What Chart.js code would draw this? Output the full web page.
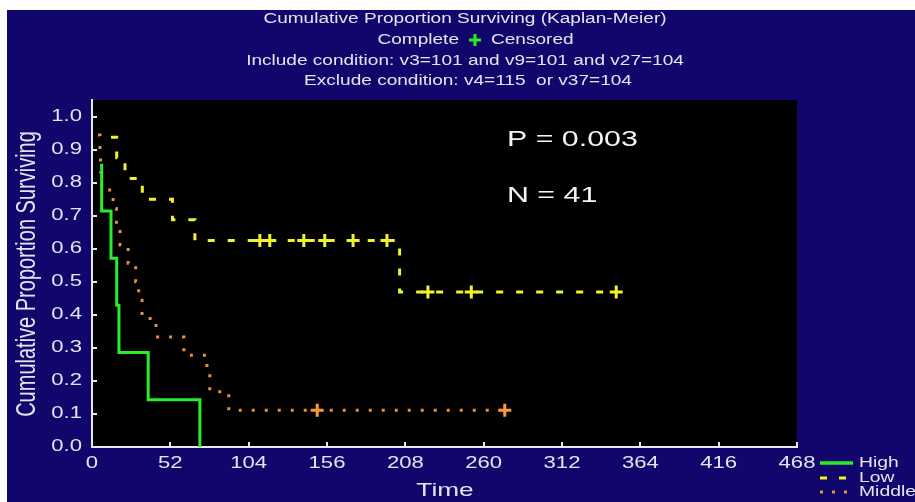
<!DOCTYPE html>
<html>
<head>
<meta charset="utf-8">
<title>Cumulative Proportion Surviving (Kaplan-Meier)</title>
<style>
  html, body { margin: 0; padding: 0; background: #ffffff; overflow: hidden; }
  #km { display: block; }
</style>
<script src="https://cdn.jsdelivr.net/npm/chart.js@4/dist/chart.umd.min.js"></script>
</head>
<body>
<canvas id="km" width="915" height="502"></canvas>
<script>
// ---- axis ticks ----
const xTicks = [0, 52, 104, 156, 208, 260, 312, 364, 416, 468];
const xTickLabels = ['0', '52', '104', '156', '208', '260', '312', '364', '416', '468'];
const yTicks = [0, 0.1, 0.2, 0.3, 0.4, 0.5, 0.6, 0.7, 0.8, 0.9, 1.0];
const yTickLabels = ['0.0', '0.1', '0.2', '0.3', '0.4', '0.5', '0.6', '0.7', '0.8', '0.9', '1.0'];

// ---- group names ----
const groups = ['High', 'Low', 'Middle'];

// ---- survival steps: time of each step and proportion surviving after it ----
const highTime = [6.4, 6.4, 12.6, 16.4, 17.9, 37.3, 71.6];
const highSurv = [0.857, 0.714, 0.571, 0.429, 0.286, 0.143, 0.0];

const lowTime = [12.6, 16.4, 21.9, 33.4, 53.4, 68.3, 204.2, 348];
const lowSurv = [0.9375, 0.875, 0.8125, 0.75, 0.6875, 0.625, 0.469, 0.469];

const midTime = [4.0, 5.3, 5.7, 6.4, 14.0, 16.2, 18.6, 24.0, 29.0, 31.0, 33.2, 42.5, 61.0, 76.3, 78.2, 90.8, 274];
const midSurv = [0.944, 0.889, 0.833, 0.778, 0.722, 0.667, 0.611, 0.556, 0.5, 0.444, 0.389, 0.333, 0.278, 0.222, 0.167, 0.111, 0.111];

// ---- censored observations ----
const lowCensTime = [111.4, 118.0, 140.6, 154.5, 173.3, 195.8, 223.0, 251.8, 348];
const lowCensSurv = [0.625, 0.625, 0.625, 0.625, 0.625, 0.625, 0.469, 0.469, 0.469];
const midCensTime = [149.5, 274];
const midCensSurv = [0.111, 0.111];

// ---- annotations ----
const titleLines = [
  'Cumulative Proportion Surviving (Kaplan-Meier)',
  'Include condition: v3=101 and v9=101 and v27=104',
  'Exclude condition: v4=115  or v37=104'
];
const statP = 'P = 0.003';
const statN = 'N = 41';

// ---- colours ----
const NAVY = '#11066b';
const INK = '#e4e4ee';
const GREEN = '#27ee27';
const YELLOW = '#f2f22a';
const ORANGE = '#e8913a';
const ORANGE_CROSS = '#ff9a35';

const FONT = '"Liberation Sans", Arial, sans-serif';
const SX = 1.38; // horizontal stretch of the lettering

const pts = (t, s) => t.map((v, i) => ({ x: v, y: s[i] }));

function wideText(ctx, text, x, y, size, align, color) {
  ctx.save();
  ctx.font = size + 'px ' + FONT;
  ctx.fillStyle = color;
  ctx.textBaseline = 'middle';
  ctx.textAlign = align;
  ctx.translate(x, y);
  ctx.scale(SX, 1);
  ctx.fillText(text, 0, 0);
  ctx.restore();
}

function plusMark(ctx, x, y, r, color, w) {
  ctx.save();
  ctx.strokeStyle = color;
  ctx.lineWidth = w;
  ctx.beginPath();
  ctx.moveTo(x - r, y); ctx.lineTo(x + r, y);
  ctx.moveTo(x, y - r); ctx.lineTo(x, y + r);
  ctx.stroke();
  ctx.restore();
}

// page background and black plotting field
const backdrop = {
  id: 'backdrop',
  beforeDraw(chart) {
    const { ctx, chartArea: a, width, height } = chart;
    ctx.save();
    ctx.fillStyle = '#ffffff';
    ctx.fillRect(0, 0, width, height);
    ctx.fillStyle = NAVY;
    ctx.fillRect(7, 10, width - 7, height - 10);
    ctx.fillStyle = '#000000';
    ctx.fillRect(a.left, a.top, a.right - a.left, a.bottom - a.top);
    ctx.restore();
  }
};

// titles, tick marks, tick labels, statistics and key
const decorations = {
  id: 'decorations',
  afterDraw(chart) {
    const { ctx, chartArea: a, scales } = chart;
    const xs = scales.x, ys = scales.y;

    // heading
    wideText(ctx, titleLines[0], 465, 19, 13.8, 'center', INK);
    wideText(ctx, 'Complete', 459, 40, 13.8, 'right', INK);
    plusMark(ctx, 475, 40, 6, GREEN, 3);
    wideText(ctx, 'Censored', 491, 40, 13.8, 'left', INK);
    wideText(ctx, titleLines[1], 465, 61, 13.8, 'center', INK);
    wideText(ctx, titleLines[2], 468, 81, 13.8, 'center', INK);

    // inward tick marks
    ctx.save();
    ctx.strokeStyle = '#e8e8e8';
    ctx.lineWidth = 2;
    ctx.beginPath();
    xTicks.forEach(v => {
      const px = Math.round(xs.getPixelForValue(v));
      ctx.moveTo(px, a.bottom); ctx.lineTo(px, a.bottom - 5);
    });
    yTicks.forEach(v => {
      const py = Math.round(ys.getPixelForValue(v));
      ctx.moveTo(a.left, py); ctx.lineTo(a.left + 5, py);
    });
    ctx.stroke();
    ctx.restore();

    // tick labels
    xTicks.forEach((v, i) => wideText(ctx, xTickLabels[i], xs.getPixelForValue(v), 464, 16, 'center', INK));
    yTicks.forEach((v, i) => wideText(ctx, yTickLabels[i], 82, ys.getPixelForValue(v), 16, 'right', INK));

    // axis titles
    wideText(ctx, 'Time', 445, 491, 19, 'center', INK);
    ctx.save();
    ctx.font = '20px ' + FONT;
    ctx.fillStyle = INK;
    ctx.textAlign = 'center';
    ctx.textBaseline = 'middle';
    ctx.translate(27, 274);
    ctx.scale(SX, 1);
    ctx.rotate(-Math.PI / 2);
    ctx.fillText('Cumulative Proportion Surviving', 0, 0);
    ctx.restore();

    // statistics
    wideText(ctx, statP, 507, 140, 22, 'left', '#f4f4f4');
    wideText(ctx, statN, 507, 196, 22, 'left', '#f4f4f4');

    // key
    const keyY = [463, 478, 492];
    const keyStyle = [
      { c: GREEN, d: [], w: 3.5 },
      { c: YELLOW, d: [7, 12], w: 3 },
      { c: ORANGE, d: [3, 9], w: 3 }
    ];
    keyStyle.forEach((k, i) => {
      ctx.save();
      ctx.strokeStyle = k.c;
      ctx.lineWidth = k.w;
      ctx.setLineDash(k.d);
      ctx.beginPath();
      ctx.moveTo(820, keyY[i]);
      ctx.lineTo(853, keyY[i]);
      ctx.stroke();
      ctx.restore();
      wideText(ctx, groups[i], 859, keyY[i], 14, 'left', INK);
    });
  }
};

const fixedAxis = (size, prop) => s => { s[prop] = size; };

new Chart(document.getElementById('km'), {
  type: 'line',
  data: {
    datasets: [
      {
        label: groups[0], data: pts(highTime, highSurv), stepped: true,
        borderColor: GREEN, borderWidth: 3, pointRadius: 0, fill: false
      },
      {
        label: groups[1], data: pts(lowTime, lowSurv), stepped: true,
        borderColor: YELLOW, borderWidth: 3, borderDash: [7, 13], pointRadius: 0, fill: false
      },
      {
        label: groups[2], data: pts(midTime, midSurv), stepped: true,
        borderColor: ORANGE, borderWidth: 3, borderDash: [3, 10], pointRadius: 0, fill: false
      },
      {
        label: groups[1] + ' censored', type: 'scatter', data: pts(lowCensTime, lowCensSurv),
        showLine: false, pointStyle: 'cross', pointRadius: 6.5, borderColor: YELLOW, borderWidth: 3
      },
      {
        label: groups[2] + ' censored', type: 'scatter', data: pts(midCensTime, midCensSurv),
        showLine: false, pointStyle: 'cross', pointRadius: 6.5, borderColor: ORANGE_CROSS, borderWidth: 3
      }
    ]
  },
  options: {
    responsive: false,
    animation: false,
    devicePixelRatio: 1,
    layout: { padding: { left: 0, top: 100, right: 118, bottom: 0 } },
    plugins: { legend: { display: false }, tooltip: { enabled: false }, title: { display: false } },
    scales: {
      x: {
        type: 'linear', min: 0, max: 468,
        afterBuildTicks: s => { s.ticks = xTicks.map(v => ({ value: v })); },
        afterFit: fixedAxis(55, 'height'),
        grid: { display: false, drawTicks: false },
        border: { display: true, color: '#e8e8e8', width: 2 },
        ticks: { display: false }
      },
      y: {
        type: 'linear', min: 0, max: 1.05,
        afterBuildTicks: s => { s.ticks = yTicks.map(v => ({ value: v })); },
        afterFit: fixedAxis(92, 'width'),
        grid: { display: false, drawTicks: false },
        border: { display: true, color: '#e8e8e8', width: 2 },
        ticks: { display: false }
      }
    }
  },
  plugins: [backdrop, decorations]
});
</script>
</body>
</html>
